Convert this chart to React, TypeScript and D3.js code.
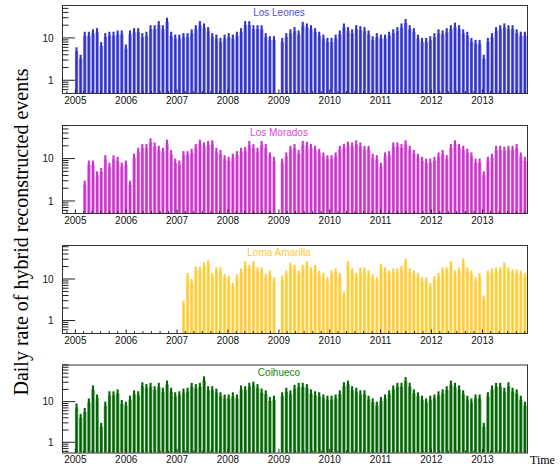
import React from 'react';
import * as d3 from 'd3';

// peak daily rate per lunation (dark-time period), starting Jan 2005; 0 = no data
const losLeones = [
  6, 4, 14, 14, 16, 17, 8, 13, 14, 14, 15, 15,
  7, 15, 17, 17, 13, 14, 20, 20, 25, 20, 30, 14,
  12, 12, 13, 13, 16, 20, 25, 22, 18, 13, 12, 10,
  12, 13, 12, 14, 17, 25, 25, 20, 20, 20, 13, 11,
  11, 0, 10, 13, 16, 18, 15, 24, 22, 20, 17, 14,
  12, 10, 10, 12, 15, 22, 18, 16, 20, 19, 18, 15,
  11, 13, 12, 12, 14, 16, 18, 22, 28, 20, 17, 12,
  10, 10, 11, 13, 16, 15, 17, 20, 23, 20, 16, 14,
  10, 9, 9, 4, 10, 13, 18, 20, 22, 20, 20, 16,
  14, 14,
];
const losMorados = [
  0, 0, 3, 9, 9, 5, 6, 12, 8, 12, 11, 8,
  9, 3, 13, 18, 22, 22, 30, 24, 20, 18, 28, 16,
  10, 9, 15, 15, 17, 22, 28, 24, 26, 27, 18, 16,
  12, 11, 13, 15, 18, 19, 26, 22, 18, 26, 22, 14,
  11, 0, 10, 14, 20, 22, 16, 26, 25, 22, 20, 17,
  14, 12, 12, 14, 20, 22, 25, 24, 27, 24, 20, 20,
  13, 12, 8, 14, 15, 24, 24, 22, 27, 20, 16, 13,
  11, 10, 10, 11, 14, 16, 12, 22, 27, 22, 20, 17,
  14, 10, 10, 5, 11, 13, 20, 20, 19, 20, 20, 22,
  14, 11,
];
const lomaAmarilla = [
  0, 0, 0, 0, 0, 0, 0, 0, 0, 0, 0, 0,
  0, 0, 0, 0, 0, 0, 0, 0, 0, 0, 0, 0,
  0, 0, 3, 14, 10, 20, 20, 25, 28, 14, 19, 19,
  13, 12, 8, 13, 18, 27, 22, 27, 19, 19, 13, 16,
  11, 0, 12, 16, 25, 22, 16, 22, 27, 19, 22, 16,
  14, 11, 16, 18, 14, 5, 27, 18, 14, 19, 19, 16,
  13, 11, 23, 19, 16, 18, 18, 21, 31, 18, 16, 14,
  11, 11, 8, 12, 14, 19, 19, 27, 16, 19, 31, 19,
  16, 11, 14, 4, 16, 18, 19, 19, 25, 19, 17, 17,
  16, 14,
];
const coihueco = [
  9, 5, 7, 12, 25, 15, 3, 10, 18, 18, 20, 11,
  10, 14, 19, 18, 30, 27, 29, 24, 29, 22, 33, 22,
  17, 18, 21, 22, 29, 27, 29, 42, 24, 24, 21, 17,
  15, 15, 17, 15, 25, 24, 29, 31, 27, 21, 19, 13,
  14, 0, 17, 22, 19, 26, 29, 29, 27, 20, 18, 17,
  15, 14, 14, 15, 19, 30, 33, 24, 22, 19, 19, 14,
  12, 10, 13, 15, 19, 25, 29, 29, 40, 29, 20, 17,
  14, 12, 14, 15, 18, 20, 24, 33, 29, 25, 19, 14,
  12, 15, 15, 3, 17, 25, 29, 29, 22, 30, 22, 20,
  14, 10,
];

const sites = ['Los Leones', 'Los Morados', 'Loma Amarilla', 'Coihueco'];
const siteData = [losLeones, losMorados, lomaAmarilla, coihueco];
const yearLabels = [2005, 2006, 2007, 2008, 2009, 2010, 2011, 2012, 2013];

const barColors = ['#3333cc', '#cc33cc', '#ffcc33', '#006600'];
const titleColors = ['#4d4de0', '#dd44dd', '#ffc833', '#118811'];
const yDomains: [number, number][] = [[0.5, 60], [0.52, 62], [0.5, 66], [0.56, 82]];

const W = 560;
const H = 470;
const left = 62;
const right = 527;
const panelTops = [5, 125, 245, 364.5];
const panelH = 88;

const firstNewMoon = new Date(2005, 0, 10);
const lunation = 29.53;
const DAY = 86400000;

const xScale = d3.scaleTime()
  .domain([new Date(2004, 8, 27), new Date(2013, 10, 17)])
  .range([left, right]);

const minorYTicks = [0.6, 0.7, 0.8, 0.9, 2, 3, 4, 5, 6, 7, 8, 9, 20, 30, 40, 50, 60, 70, 80, 90];
const monthTicks = d3.timeMonth.every(2)!.range(new Date(2004, 9, 1), new Date(2013, 10, 17));

const Panel = ({ idx }: { idx: number }) => {
  const top = panelTops[idx];
  const bottom = top + panelH;
  const [y0, y1] = yDomains[idx];
  const yScale = d3.scaleLog().domain([y0, y1]).range([bottom, top]);
  const data = siteData[idx];
  const color = barColors[idx];

  return (
    <g>
      {data.map((v, k) => {
        if (!v) return null;
        const t = firstNewMoon.getTime() + k * lunation * DAY;
        const xa = xScale(new Date(t - 12 * DAY));
        const xb = xScale(new Date(t + 12 * DAY));
        const xm = xScale(new Date(t + 3 * DAY));
        return (
          <g key={k}>
            <rect x={xa} y={yScale(v) + 4} width={xb - xa} height={bottom - yScale(v) - 4}
              fill={color} opacity={0.6} />
            <rect x={xa + 0.5} y={yScale(v)} width={xm - xa} height={bottom - yScale(v)}
              fill={color} />
          </g>
        );
      })}
      {/* frame */}
      <rect x={left + 0.5} y={top + 0.5} width={right - left} height={panelH}
        fill="none" stroke="#333" strokeWidth={1} />
      {/* y ticks */}
      {minorYTicks.filter(v => v > y0 && v < y1).map(v => (
        <line key={'m' + v} x1={left} x2={left + 6.5} y1={yScale(v)} y2={yScale(v)}
          stroke="#222" strokeWidth={1} />
      ))}
      {[1, 10].map(v => (
        <g key={'M' + v}>
          <line x1={left} x2={left + 13} y1={yScale(v)} y2={yScale(v)} stroke="#222" strokeWidth={1} />
          <text x={left - 8.5} y={yScale(v) + 3.6} textAnchor="end" fontSize={10}
            fontFamily="Liberation Sans, Arial, sans-serif" fill="#111">{v}</text>
        </g>
      ))}
      {/* x ticks */}
      {monthTicks.map((d, i) => (
        <line key={'xm' + i} x1={xScale(d)} x2={xScale(d)} y1={bottom} y2={bottom - (d.getMonth() === 0 ? 3.6 : 1.8)}
          stroke="#222" strokeWidth={1} />
      ))}
      {yearLabels.map(yr => (
        <text key={yr} x={xScale(new Date(yr, 0, 1))} y={bottom + 10.7} textAnchor="middle"
          fontSize={10} fontFamily="Liberation Sans, Arial, sans-serif" fill="#111">{yr}</text>
      ))}
      <text x={279} y={top + 11} textAnchor="middle" fontSize={10}
        fontFamily="Liberation Sans, Arial, sans-serif" fill={titleColors[idx]}>{sites[idx]}</text>
    </g>
  );
};

export default function App() {
  return (
    <svg width={W} height={H} style={{ position: 'absolute', left: 0, top: 0, background: '#fff' }}>
      <rect width={W} height={H} fill="#fff" />
      {sites.map((_, i) => <Panel key={i} idx={i} />)}
      <text transform="translate(28,232) rotate(-90)" textAnchor="middle" fontSize={20}
        fontFamily="Liberation Serif, Times New Roman, serif" fill="#000">
        Daily rate of hybrid reconstructed events
      </text>
      <text x={530} y={464} fontSize={12} fontFamily="Liberation Serif, Times New Roman, serif" fill="#000">Time</text>
    </svg>
  );
}
